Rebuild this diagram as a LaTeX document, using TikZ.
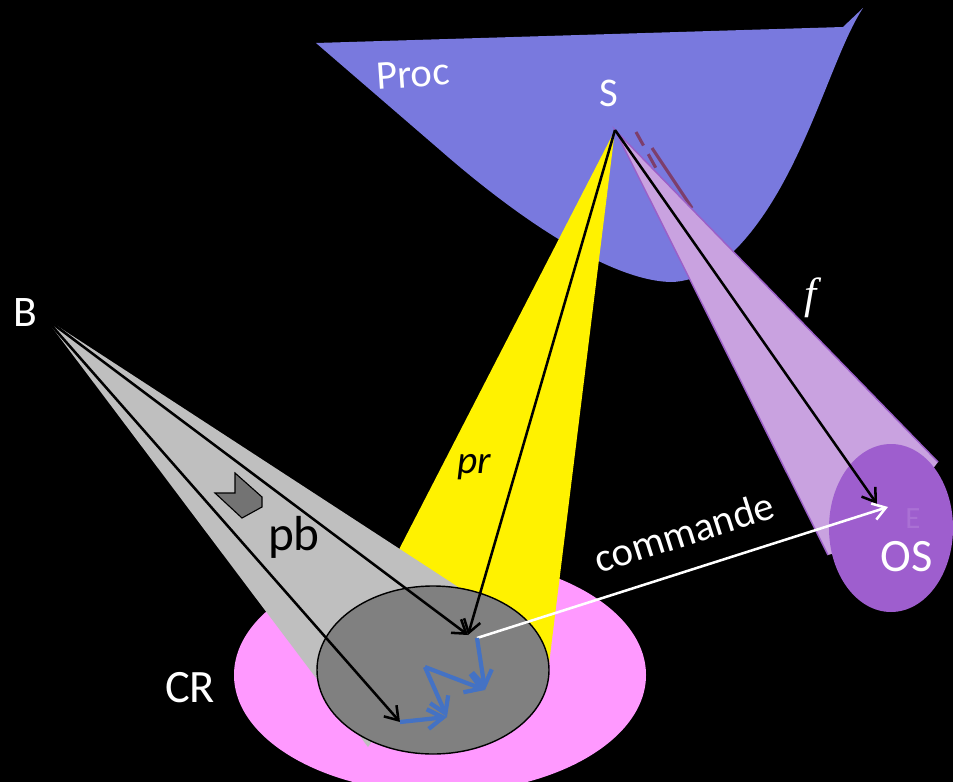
\documentclass[tikz,border=0pt]{standalone}
\usepackage{fontspec}
\setmainfont{Carlito}
\newfontfamily\serifit{Liberation Serif}
\usetikzlibrary{arrows.meta}

\definecolor{procblue}{RGB}{121,121,222}
\definecolor{conelilac}{RGB}{201,162,224}
\definecolor{coneedge}{RGB}{155,95,200}
\definecolor{ospurple}{RGB}{158,94,206}
\definecolor{crpink}{RGB}{255,153,255}
\definecolor{walkblue}{RGB}{68,114,196}
\definecolor{maroon}{RGB}{125,62,108}

\begin{document}
\begin{tikzpicture}[x=0.025cm, y=-0.025cm,
    ray/.style={black, line width=1.8pt, -{Straight Barb[length=9pt,width=12pt]}},
    walk/.style={walkblue, line width=3pt, -{Straight Barb[length=11pt,width=14pt]}},
    txt/.style={white, inner sep=0pt, font=\fontsize{29}{34}\selectfont}]

    % Background
    \fill[black] (0,0) rectangle (953,782);
    \useasboundingbox (0,0) rectangle (953,782);

    % Points
    \coordinate (S) at (615,130);
    \coordinate (B) at (45,318);
    \coordinate (hit) at (468,635);
    \coordinate (out) at (477,638);
    \coordinate (low) at (400,722);
    \coordinate (osin) at (877,504);
    \coordinate (cmd) at (888,507);
    \coordinate (w1) at (447,717);
    \coordinate (w2) at (425,667);
    \coordinate (w3) at (485,690);

    % Proc region
    \fill[procblue] (316,43) -- (843,27) -- (863,8)
        .. controls (835,50) and (810,150) .. (760,220)
        .. controls (730,262) and (700,282) .. (670,282)
        .. controls (610,280) and (520,220) .. (440,150) -- cycle;
    \node[txt, rotate=4] (proc) at (413,74) {Proc};
    \node[txt] (slab) at (609,93) {S};

    % Traces next to S
    \draw[maroon, line width=2.2pt, dash pattern=on 11pt off 7pt] (636,132) -- (657,170);
    \draw[maroon, line width=2.2pt] (652,148) -- (692,208);

    % Cone f
    \fill[conelilac] (S) -- (828,555) -- (880,540) -- (938,462) -- cycle;
    \draw[coneedge, line width=1pt] (828,555) -- (S) -- (938,462);
    \node[txt] (flab) at (811,298) {\fontsize{31}{36}\serifit\itshape f};

    % CR region
    \fill[crpink] (440,675) ellipse[x radius=206, y radius=118];

    % Cone pr
    \fill[yellow] (S) -- (548,672) -- (460,650) -- (373,600) -- cycle;
    \node[black, inner sep=0pt] (prlab) at (474,467) {\fontsize{28}{32}\selectfont\itshape pr};

    % Cone pb
    \fill[black!25] (B) -- (475,598) -- (368,747) -- cycle;
    \fill[black!55, draw=black, line width=0.8pt] (215,493) -- (235,493) -- (235,473)
        -- (262,497) -- (262,507) -- (242,518) -- cycle;
    \node[black, inner sep=0pt] (pblab) at (294,537) {\fontsize{35}{40}\selectfont pb};

    % Target disc
    \draw[fill=black!50, line width=1pt] (433,670) ellipse[x radius=116, y radius=84];
    \node[txt] (crlab) at (190,688) {\fontsize{33}{38}\selectfont CR};
    \node[txt] (blab) at (25,313) {\fontsize{31}{36}\selectfont B};

    % OS
    \fill[ospurple] (891,528) ellipse[x radius=62, y radius=84];
    \node[inner sep=0pt, text=ospurple!88!white] (elab) at (913,519) {\fontsize{22}{26}\selectfont E};
    \node[txt] (oslab) at (907,557) {\fontsize{33}{38}\selectfont OS};

    % Rays
    \draw[ray] (B) -- (hit);
    \draw[ray] (B) -- (low);
    \draw[ray] (S) -- (hit);
    \draw[ray] (S) -- (osin);

    % Command
    \draw[white, line width=1.8pt, -{Straight Barb[length=9pt,width=12pt]}] (out) -- (cmd);
    \node[txt, rotate=17.7] (cmdlab) at (684,532) {commande};

    % Walk inside the disc
    \draw[walk] (out) -- (w3);
    \draw[walk] (w2) -- (w3);
    \draw[walk] (w2) -- (w1);
    \draw[walk] (low) -- (w1);

\end{tikzpicture}
\end{document}
